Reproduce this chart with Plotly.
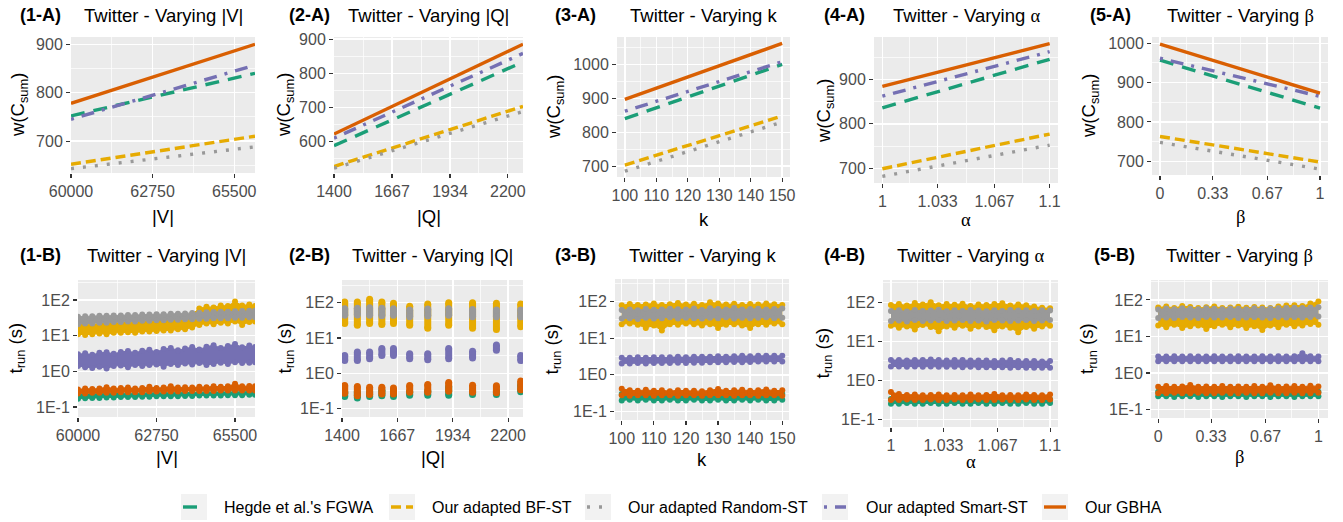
import math
import plotly.graph_objects as go
from plotly.subplots import make_subplots

W, H = 1343, 522
FONT = "Liberation Sans, Arial, sans-serif"

SERIES = ["Hegde et al.'s FGWA", "Our adapted BF-ST", "Our adapted Random-ST",
          "Our adapted Smart-ST", "Our GBHA"]
COLORS = ['#1B9E77', '#E6AB02', '#999999', '#7570B3', '#D95F02']
DASHES = ['14px,9px', '10px,5px', '3px,9px', '3px,8px,13px,8px', 'solid']

# ---------------- top row: w(C_sum) (series order as SERIES) ----------------
A1_X = [60000, 66200]
A1_Y = [[752, 840], [652, 710], [643, 688], [745, 857], [778, 900]]
A2_X = [1400, 2270]
A2_Y = [[588, 833], [527, 703], [522, 688], [610, 858], [622, 885]]
A3_X = [100, 150]
A3_Y = [[840, 1000], [703, 848], [685, 830], [862, 1008], [897, 1062]]
A4_X = [1, 1.1]
A4_Y = [[836, 945], [699, 777], [682, 752], [862, 962], [884, 980]]
A5_X = [0, 1]
A5_Y = [[957, 835], [763, 698], [748, 680], [962, 865], [998, 873]]

# ---------------- bottom row: t_run (s), low / high of the point cloud ----------------
B1_X = [60000, 60250, 60500, 60750, 61000, 61250, 61500, 61750, 62000, 62250, 62500, 62750, 63000,
        63250, 63500, 63750, 64000, 64250, 64500, 64750, 65000, 65250, 65500, 65750, 66000, 66200]
B1_LO = [
    [0.17, 0.175, 0.18, 0.18, 0.185, 0.185, 0.19, 0.19, 0.19, 0.195, 0.195, 0.2, 0.2, 0.2, 0.2, 0.205,
     0.205, 0.21, 0.21, 0.21, 0.21, 0.215, 0.215, 0.215, 0.22, 0.22],
    [11, 10.5, 11, 11.5, 11, 12, 12, 12.5, 12, 13, 13, 13.5, 14, 14, 15, 15, 17, 20, 22, 21, 23, 22, 25, 20, 24, 25],
    [21, 22, 22, 23, 23, 24, 24, 25, 25, 26, 26, 27, 27, 28, 28, 29, 29, 30, 30, 31, 31, 31, 32, 32, 33, 33],
    [1.4, 1.3, 1.25, 1.35, 1.2, 1.4, 1.45, 1.3, 1.5, 1.4, 1.5, 1.55, 1.35, 1.6, 1.5, 1.65, 1.55, 1.7, 1.5,
     1.6, 1.75, 1.6, 1.8, 1.7, 1.75, 1.8],
    [0.24, 0.24, 0.25, 0.25, 0.25, 0.25, 0.26, 0.26, 0.26, 0.26, 0.27, 0.27, 0.27, 0.27, 0.27, 0.28, 0.28,
     0.28, 0.28, 0.28, 0.29, 0.29, 0.29, 0.29, 0.29, 0.29]]
B1_HI = [
    [0.23, 0.23, 0.235, 0.235, 0.24, 0.24, 0.24, 0.245, 0.245, 0.245, 0.25, 0.25, 0.25, 0.25, 0.255, 0.255,
     0.255, 0.26, 0.26, 0.26, 0.26, 0.265, 0.265, 0.265, 0.27, 0.27],
    [20, 21, 21, 22, 22, 23, 23, 24, 24, 25, 25, 26, 27, 28, 29, 31, 40, 58, 65, 62, 70, 68, 90, 70, 75, 68],
    [34, 35, 35, 36, 36, 37, 37, 38, 38, 39, 39, 40, 40, 41, 41, 42, 43, 44, 45, 46, 47, 47, 48, 49, 50, 50],
    [3.0, 3.2, 2.9, 3.3, 3.4, 3.1, 3.5, 3.7, 3.3, 3.8, 4.0, 3.5, 4.2, 4.5, 3.9, 4.4, 4.8, 4.1, 4.9, 5.4,
     4.5, 5.1, 5.8, 4.7, 5.3, 4.8],
    [0.31, 0.33, 0.32, 0.33, 0.36, 0.33, 0.34, 0.35, 0.33, 0.34, 0.37, 0.34, 0.35, 0.38, 0.35, 0.36, 0.35,
     0.37, 0.36, 0.38, 0.37, 0.38, 0.45, 0.38, 0.39, 0.38]]

B2_X = [1413, 1474, 1533, 1592, 1648, 1726, 1813, 1914, 2029, 2144, 2261]
B2_LO = [
    [0.22, 0.2, 0.22, 0.23, 0.22, 0.24, 0.24, 0.24, 0.25, 0.25, 0.3],
    [26, 23, 26, 24, 26, 23, 19, 23, 19, 17.5, 21],
    [44, 45, 44, 43, 44, 40, 42, 44, 40, 40, 40],
    [2.3, 2.3, 2.6, 3.2, 3.2, 2.6, 2.4, 2.6, 2.7, 4.5, 2.3],
    [0.27, 0.23, 0.25, 0.26, 0.26, 0.29, 0.29, 0.31, 0.29, 0.28, 0.34]]
B2_HI = [
    [0.3, 0.3, 0.3, 0.33, 0.3, 0.3, 0.32, 0.42, 0.32, 0.32, 0.47],
    [105, 105, 125, 105, 96, 80, 92, 100, 100, 96, 92],
    [68, 70, 72, 70, 68, 62, 66, 68, 64, 62, 62],
    [3.2, 4.0, 4.0, 5.0, 5.0, 3.6, 3.6, 5.0, 4.2, 6.3, 3.2],
    [0.45, 0.42, 0.40, 0.40, 0.38, 0.45, 0.48, 0.55, 0.46, 0.44, 0.6]]

B3_X = [100, 102.5, 105, 107.5, 110, 112.5, 115, 117.5, 120, 122.5, 125, 127.5, 130, 132.5, 135,
        137.5, 140, 142.5, 145, 147.5, 150]
B3_LO = [
    [0.2, 0.21, 0.2, 0.21, 0.2, 0.2, 0.21, 0.2, 0.2, 0.21, 0.2, 0.2, 0.21, 0.2, 0.2, 0.21, 0.2, 0.21, 0.2, 0.2, 0.21],
    [24, 25, 23, 19, 22, 16, 24, 23, 25, 24, 22, 24, 19, 23, 24, 22, 19, 24, 23, 25, 24],
    [34, 35, 33, 36, 34, 35, 37, 34, 36, 35, 34, 36, 35, 37, 34, 36, 35, 36, 37, 35, 36],
    [2.05, 2.05, 2.1, 2.05, 2.1, 2.1, 2.1, 2.15, 2.1, 2.15, 2.15, 2.2, 2.2, 2.2, 2.25, 2.2, 2.25, 2.3, 2.3, 2.3, 2.3],
    [0.28, 0.27, 0.28, 0.28, 0.27, 0.28, 0.28, 0.27, 0.28, 0.28, 0.27, 0.28, 0.28, 0.28, 0.27, 0.28, 0.28,
     0.27, 0.28, 0.28, 0.27]]
B3_HI = [
    [0.3, 0.29, 0.3, 0.3, 0.29, 0.3, 0.3, 0.29, 0.3, 0.3, 0.3, 0.29, 0.3, 0.3, 0.29, 0.3, 0.3, 0.29, 0.3, 0.3, 0.3],
    [78, 85, 80, 82, 88, 80, 84, 90, 82, 86, 80, 95, 88, 82, 86, 80, 85, 82, 88, 84, 80],
    [58, 60, 57, 62, 59, 60, 63, 61, 60, 64, 58, 65, 62, 60, 66, 60, 62, 63, 60, 62, 64],
    [2.9, 2.9, 3.0, 2.9, 3.0, 3.0, 3.0, 3.1, 3.0, 3.1, 3.1, 3.1, 3.2, 3.1, 3.2, 3.3, 3.2, 3.3, 3.3, 3.3, 3.3],
    [0.42, 0.38, 0.37, 0.39, 0.37, 0.38, 0.36, 0.38, 0.37, 0.37, 0.36, 0.38, 0.41, 0.37, 0.38, 0.39, 0.37,
     0.38, 0.40, 0.37, 0.38]]

B4_X = [1.0, 1.005, 1.01, 1.015, 1.02, 1.025, 1.03, 1.035, 1.04, 1.045, 1.05, 1.055, 1.06, 1.065, 1.07,
        1.075, 1.08, 1.085, 1.09, 1.095, 1.1]
B4_LO = [
    [0.25, 0.25, 0.26, 0.25, 0.25, 0.26, 0.25, 0.25, 0.26, 0.25, 0.25, 0.26, 0.25, 0.25, 0.26, 0.25, 0.25,
     0.26, 0.25, 0.25, 0.26],
    [25, 22, 24, 20, 26, 23, 18, 24, 22, 25, 21, 24, 23, 19, 24, 22, 17, 23, 21, 24, 25],
    [33, 34, 32, 35, 33, 34, 35, 33, 34, 35, 33, 34, 32, 35, 34, 33, 34, 35, 33, 34, 35],
    [2.25, 2.25, 2.2, 2.25, 2.2, 2.25, 2.2, 2.2, 2.2, 2.15, 2.2, 2.15, 2.15, 2.15, 2.15, 2.1, 2.15, 2.1, 2.1, 2.1, 2.1],
    [0.31, 0.31, 0.32, 0.31, 0.31, 0.32, 0.31, 0.31, 0.32, 0.31, 0.31, 0.32, 0.31, 0.31, 0.32, 0.31, 0.31,
     0.32, 0.31, 0.31, 0.32]]
B4_HI = [
    [0.33, 0.33, 0.32, 0.33, 0.33, 0.32, 0.33, 0.33, 0.32, 0.33, 0.33, 0.32, 0.33, 0.33, 0.32, 0.33, 0.33,
     0.32, 0.33, 0.33, 0.32],
    [85, 90, 82, 95, 88, 100, 84, 90, 86, 92, 80, 88, 85, 90, 94, 82, 88, 84, 78, 72, 70],
    [60, 62, 58, 63, 60, 61, 64, 59, 62, 60, 63, 61, 59, 62, 60, 63, 61, 62, 60, 62, 61],
    [3.3, 3.3, 3.2, 3.3, 3.3, 3.4, 3.3, 3.2, 3.3, 3.3, 3.2, 3.2, 3.2, 3.1, 3.2, 3.3, 3.1, 3.1, 3.1, 3.0, 3.1],
    [0.5, 0.44, 0.42, 0.43, 0.41, 0.42, 0.43, 0.41, 0.42, 0.41, 0.43, 0.41, 0.42, 0.44, 0.41, 0.42, 0.41,
     0.43, 0.42, 0.41, 0.43]]

B5_X = [0.0, 0.05, 0.1, 0.15, 0.2, 0.25, 0.3, 0.35, 0.4, 0.45, 0.5, 0.55, 0.6, 0.65, 0.7, 0.75, 0.8,
        0.85, 0.9, 0.95, 1.0]
B5_LO = [
    [0.23, 0.23, 0.22, 0.23, 0.23, 0.22, 0.23, 0.23, 0.22, 0.23, 0.23, 0.22, 0.23, 0.23, 0.22, 0.23, 0.23,
     0.22, 0.23, 0.23, 0.23],
    [20, 18, 21, 17, 19, 20, 16, 19, 21, 18, 20, 17, 19, 15, 20, 18, 21, 19, 20, 22, 21],
    [32, 33, 32, 34, 33, 32, 34, 33, 33, 34, 32, 33, 34, 33, 32, 34, 33, 34, 33, 34, 35],
    [2.1, 2.1, 2.1, 2.1, 2.1, 2.1, 2.1, 2.1, 2.1, 2.1, 2.1, 2.1, 2.1, 2.1, 2.1, 2.1, 2.1, 2.1, 2.1, 2.1, 2.1],
    [0.28, 0.28, 0.29, 0.28, 0.28, 0.29, 0.28, 0.28, 0.29, 0.28, 0.28, 0.29, 0.28, 0.28, 0.29, 0.28, 0.28,
     0.29, 0.28, 0.28, 0.29]]
B5_HI = [
    [0.31, 0.31, 0.3, 0.31, 0.31, 0.3, 0.31, 0.31, 0.3, 0.31, 0.31, 0.3, 0.31, 0.31, 0.3, 0.31, 0.31,
     0.3, 0.31, 0.31, 0.31],
    [62, 66, 60, 68, 64, 60, 63, 66, 60, 62, 65, 61, 64, 62, 60, 66, 70, 72, 68, 80, 90],
    [55, 58, 56, 59, 57, 56, 59, 57, 56, 58, 57, 56, 59, 57, 58, 59, 60, 61, 60, 62, 63],
    [2.85, 2.85, 2.9, 2.85, 2.9, 2.85, 2.85, 2.9, 2.85, 2.85, 2.9, 2.85, 2.85, 2.9, 2.85, 2.9, 2.85, 2.9,
     3.5, 2.9, 2.85],
    [0.42, 0.44, 0.42, 0.43, 0.47, 0.42, 0.43, 0.42, 0.44, 0.42, 0.43, 0.42, 0.44, 0.42, 0.46, 0.42, 0.43,
     0.44, 0.42, 0.45, 0.43]]

# ---------------- axes ----------------
X_TICKS = [([60000, 62750, 65500], ['60000', '62750', '65500'], [61375, 64125]),
           ([1400, 1667, 1934, 2200], ['1400', '1667', '1934', '2200'], [1533.5, 1800.5, 2067]),
           ([100, 110, 120, 130, 140, 150], ['100', '110', '120', '130', '140', '150'], [105, 115, 125, 135, 145]),
           ([1, 1.033, 1.067, 1.1], ['1', '1.033', '1.067', '1.1'], [1.0165, 1.05, 1.0835]),
           ([0, 0.33, 0.67, 1], ['0', '0.33', '0.67', '1'], [0.165, 0.5, 0.835])]
X_RANGES_A = [[60000, 66200], [1400, 2270], [97.5, 152.5], [0.995, 1.105], [-0.05, 1.05]]
X_RANGES_B = [[60000, 66200], [1400, 2272], [97.9, 152.1], [0.995, 1.105], [-0.045, 1.06]]
Y_RANGES_A = [[634, 915], [508, 906], [668, 1081], [667, 995], [665, 1016]]
Y_TICKS_A = [([700, 800, 900], [650, 750, 850]),
             ([600, 700, 800, 900], [550, 650, 750, 850]),
             ([700, 800, 900, 1000], [750, 850, 950, 1050]),
             ([700, 800, 900], [750, 850, 950]),
             ([700, 800, 900, 1000], [750, 850, 950])]
Y_RANGES_B = [[-1.28, 2.56], [-1.24, 2.645], [-1.23, 2.61], [-1.2, 2.57], [-1.23, 2.545]]
LOG_TICKS = [0.1, 1, 10, 100]
LOG_LABELS = ['1E-1', '1E0', '1E1', '1E2']
LOG_MINOR = [10 ** -0.5, 10 ** 0.5, 10 ** 1.5, 10 ** 2.5]

X_TITLES = ['|V|', '|Q|', 'k', '<span style="font-family:Liberation Serif">α</span>',
            '<span style="font-family:Liberation Serif">β</span>']
TITLES = ['Twitter - Varying |V|', 'Twitter - Varying |Q|', 'Twitter - Varying k',
          'Twitter - Varying <span style="font-family:Liberation Serif">α</span>',
          'Twitter - Varying <span style="font-family:Liberation Serif">β</span>']

# panel boxes in page pixels: (left, right, top, bottom)
PANEL_PX = [(71, 255, 37, 173), (334, 523, 37, 173), (617, 790, 37, 177), (874, 1058, 37, 183),
            (1152, 1328, 37, 175),
            (78, 255, 280, 417), (342, 523, 280, 417), (615, 789, 279, 420), (883, 1058, 280, 427),
            (1151, 1328, 280, 418)]
XT_Y = [217, 217, 219, 220, 217, 457, 457, 459, 462, 457]
YT_X = [19, 285, 555, 825, 1090, 16, 285, 552, 823, 1088]
LAB_X = [18, 287, 553, 822, 1088, 18, 287, 553, 822, 1092]


def px(x):
    return x / W


def py(y):
    return 1 - y / H


fig = make_subplots(rows=2, cols=5)

# top row lines
A_X = [A1_X, A2_X, A3_X, A4_X, A5_X]
A_Y = [A1_Y, A2_Y, A3_Y, A4_Y, A5_Y]
for c in range(5):
    for s in range(5):
        fig.add_trace(go.Scatter(x=A_X[c], y=A_Y[c][s], mode='lines',
                                 line=dict(color=COLORS[s], width=3.4, dash=DASHES[s]),
                                 name=SERIES[s], showlegend=False), row=1, col=c + 1)

# bottom row clouds
B_SETS = [(B1_X, B1_LO, B1_HI), (B3_X, B3_LO, B3_HI), (B4_X, B4_LO, B4_HI), (B5_X, B5_LO, B5_HI)]
B_COLS = [1, 3, 4, 5]
for (bx, blo, bhi), col in zip(B_SETS, B_COLS):
    for s in range(5):
        fig.add_trace(go.Scatter(x=bx, y=blo[s], mode='lines+markers',
                                 line=dict(color=COLORS[s], width=1),
                                 marker=dict(color=COLORS[s], size=6),
                                 showlegend=False), row=2, col=col)
        fig.add_trace(go.Scatter(x=bx, y=bhi[s], mode='lines+markers', fill='tonexty',
                                 fillcolor=COLORS[s],
                                 line=dict(color=COLORS[s], width=1),
                                 marker=dict(color=COLORS[s], size=6),
                                 showlegend=False), row=2, col=col)

# panel 2-B: discrete columns of points
for s in range(5):
    xs, ys = [], []
    for x, lo, hi in zip(B2_X, B2_LO[s], B2_HI[s]):
        xs += [x, x, None]
        ys += [lo, hi, None]
    fig.add_trace(go.Scatter(x=xs, y=ys, mode='lines+markers',
                             line=dict(color=COLORS[s], width=7),
                             marker=dict(color=COLORS[s], size=7),
                             showlegend=False), row=2, col=2)

# axes
for i in range(10):
    l, r, t, b = PANEL_PX[i]
    c = i % 5
    xn = 'xaxis' if i == 0 else f'xaxis{i + 1}'
    yn = 'yaxis' if i == 0 else f'yaxis{i + 1}'
    tv, tt, mv = X_TICKS[c]
    common = dict(showline=False, zeroline=False, ticks='outside', ticklen=4, tickwidth=1.1,
                  tickcolor='#333333', gridcolor='white', gridwidth=1.4,
                  tickfont=dict(family=FONT, size=16, color='#4D4D4D'), automargin=False)
    fig.layout[xn].update(domain=[px(l), px(r)], tickmode='array', tickvals=tv, ticktext=tt,
                          range=(X_RANGES_A if i < 5 else X_RANGES_B)[c],
                          minor=dict(tickvals=mv, showgrid=True, gridcolor='white', gridwidth=0.7,
                                     ticks=''),
                          **common)
    if i < 5:
        yv, ym = Y_TICKS_A[c]
        fig.layout[yn].update(domain=[py(b), py(t)], tickmode='array', tickvals=yv,
                              ticktext=[str(v) for v in yv], range=Y_RANGES_A[c],
                              minor=dict(tickvals=ym, showgrid=True, gridcolor='white',
                                         gridwidth=0.7, ticks=''),
                              **common)
    else:
        fig.layout[yn].update(domain=[py(b), py(t)], type='log', tickmode='array',
                              tickvals=LOG_TICKS, ticktext=LOG_LABELS, range=Y_RANGES_B[c],
                              minor=dict(tickvals=LOG_MINOR, showgrid=True, gridcolor='white',
                                         gridwidth=0.7, ticks=''),
                              **common)

annots = []
for i in range(10):
    l, r, t, b = PANEL_PX[i]
    c = i % 5
    row_y = 15 if i < 5 else 255
    tag = f'({c + 1}-{"A" if i < 5 else "B"})'
    annots.append(dict(x=px(LAB_X[i]), y=py(row_y), xref='paper', yref='paper', text=f'<b>{tag}</b>',
                       showarrow=False, xanchor='left', yanchor='middle',
                       font=dict(family=FONT, size=18, color='black')))
    annots.append(dict(x=px((l + r) / 2), y=py(row_y), xref='paper', yref='paper', text=TITLES[c],
                       showarrow=False, xanchor='center', yanchor='middle',
                       font=dict(family=FONT, size=18.5, color='black')))
    annots.append(dict(x=px((l + r) / 2), y=py(XT_Y[i]), xref='paper', yref='paper', text=X_TITLES[c],
                       showarrow=False, xanchor='center', yanchor='middle',
                       font=dict(family=FONT, size=18.5, color='black')))
    ytxt = 'w(C<sub>sum</sub>)' if i < 5 else 't<sub>run</sub> (s)'
    annots.append(dict(x=px(YT_X[i]), y=py((t + b) / 2), xref='paper', yref='paper', text=ytxt,
                       showarrow=False, xanchor='center', yanchor='middle', textangle=-90,
                       font=dict(family=FONT, size=18.5, color='black')))

# manual legend
LEG_BOX = [(181, 207), (389, 415), (585, 611), (822, 848), (1042, 1068)]
LEG_TXT = [222, 430, 626, 864, 1083]
LEG_Y0, LEG_Y1 = 494, 520
shapes = []
for s in range(5):
    x0, x1 = LEG_BOX[s]
    shapes.append(dict(type='rect', xref='paper', yref='paper', x0=px(x0), x1=px(x1),
                       y0=py(LEG_Y1), y1=py(LEG_Y0), fillcolor='#F2F2F2', line=dict(width=0),
                       layer='below'))
    shapes.append(dict(type='line', xref='paper', yref='paper', x0=px(x0 + 2), x1=px(x1 - 2),
                       y0=py((LEG_Y0 + LEG_Y1) / 2), y1=py((LEG_Y0 + LEG_Y1) / 2),
                       line=dict(color=COLORS[s], width=3.4, dash=DASHES[s])))
    annots.append(dict(x=px(LEG_TXT[s]), y=py((LEG_Y0 + LEG_Y1) / 2), xref='paper', yref='paper',
                       text=SERIES[s], showarrow=False, xanchor='left', yanchor='middle',
                       font=dict(family=FONT, size=16, color='black')))

fig.update_layout(width=W, height=H, margin=dict(l=0, r=0, t=0, b=0),
                  plot_bgcolor='#EBEBEB', paper_bgcolor='white', showlegend=False,
                  hovermode=False, annotations=annots, shapes=shapes, font=dict(family=FONT))

fig.write_html("out.html", config={'displayModeBar': False, 'staticPlot': True},
               post_script="document.body.style.margin='0';document.body.style.overflow='hidden';")
